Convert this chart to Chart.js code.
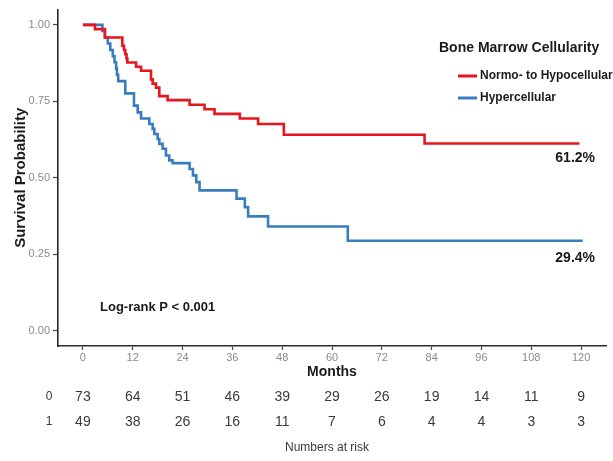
<!DOCTYPE html>
<html><head><meta charset="utf-8">
<script src="https://cdn.jsdelivr.net/npm/chart.js@4/dist/chart.umd.min.js"></script>
<style>html,body{margin:0;padding:0;background:#fff}canvas{display:block}</style>
</head><body>
<canvas id="c" width="613" height="461"></canvas>
<script>
// ---- data ----
const seriesNames = ['Normo- to Hypocellular', 'Hypercellular'];
const legendTitle = 'Bone Marrow Cellularity';
const normoTimes = [0, 2.9, 5.3, 9.5, 9.9, 10.2, 10.5, 10.7, 12.8, 14.0, 16.4, 16.8, 17.6, 18.4, 20.4, 25.7, 29.3, 31.7, 37.8, 42.2, 48.4, 82.3, 119.6];
const normoSurv  = [1.0, 0.986, 0.959, 0.932, 0.918, 0.904, 0.890, 0.877, 0.863, 0.850, 0.822, 0.808, 0.795, 0.767, 0.754, 0.739, 0.724, 0.709, 0.694, 0.676, 0.641, 0.612, 0.612];
const hyperTimes = [0, 4.7, 5.3, 6.0, 6.6, 7.2, 7.6, 8.0, 8.2, 8.5, 10.2, 12.3, 13.2, 14.0, 16.0, 16.8, 17.2, 18.0, 18.4, 19.2, 20.0, 20.8, 21.6, 25.7, 26.5, 27.3, 28.1, 37.0, 39.0, 39.8, 44.6, 63.8, 120.4];
const hyperSurv  = [1.0, 0.980, 0.959, 0.939, 0.918, 0.898, 0.878, 0.857, 0.837, 0.816, 0.776, 0.736, 0.714, 0.694, 0.676, 0.660, 0.643, 0.627, 0.611, 0.595, 0.573, 0.557, 0.548, 0.529, 0.508, 0.486, 0.459, 0.432, 0.404, 0.374, 0.341, 0.294, 0.294];
const endLabels = ['61.2%', '29.4%'];
const pValueText = 'Log-rank P < 0.001';
const xTickValues = [0, 12, 24, 36, 48, 60, 72, 84, 96, 108, 120];
const yTickValues = [0, 0.25, 0.5, 0.75, 1.0];
const riskGroups = ['0', '1'];
const riskNormo = [73, 64, 51, 46, 39, 29, 26, 19, 14, 11, 9];
const riskHyper = [49, 38, 26, 16, 11, 7, 6, 4, 4, 3, 3];
const riskTitle = 'Numbers at risk';

const RED = '#e5161d', BLUE = '#3a7dbf';
const FONT = '"Liberation Sans", Arial, sans-serif';
const toPts = (t, s) => t.map((x, i) => ({x: x, y: s[i]}));

const overlay = {
  id: 'overlay',
  afterDraw(chart) {
    const ctx = chart.ctx, xs = chart.scales.x;
    ctx.save();
    // end labels
    ctx.fillStyle = '#1a1a1a';
    ctx.font = 'bold 14px ' + FONT;
    ctx.textAlign = 'right'; ctx.textBaseline = 'middle';
    ctx.fillText(endLabels[0], 595, 158);
    ctx.fillText(endLabels[1], 595, 258);
    // p value
    ctx.font = 'bold 13px ' + FONT;
    ctx.textAlign = 'left';
    ctx.fillText(pValueText, 100, 307);
    // legend
    ctx.font = 'bold 14px ' + FONT;
    ctx.fillText(legendTitle, 439, 48);
    ctx.font = 'bold 12px ' + FONT;
    const ly = [76, 98];
    chart.data.datasets.forEach((d, i) => {
      ctx.strokeStyle = d.borderColor; ctx.lineWidth = 3;
      ctx.beginPath(); ctx.moveTo(458, ly[i]); ctx.lineTo(477, ly[i]); ctx.stroke();
      ctx.fillStyle = '#1a1a1a';
      ctx.fillText(d.label, 480, ly[i]);
    });
    // risk table
    ctx.fillStyle = '#3a3a3a';
    ctx.textAlign = 'center';
    ctx.font = '12px ' + FONT;
    ctx.fillText(riskGroups[0], 49, 397);
    ctx.fillText(riskGroups[1], 49, 422);
    ctx.font = '14px ' + FONT;
    xTickValues.forEach((t, i) => {
      const px = xs.getPixelForValue(t);
      ctx.fillText(String(riskNormo[i]), px, 397);
      ctx.fillText(String(riskHyper[i]), px, 422);
    });
    ctx.font = '12px ' + FONT;
    ctx.fillText(riskTitle, 327, 448);
    ctx.restore();
  }
};

new Chart(document.getElementById('c'), {
  type: 'line',
  data: {
    datasets: [
      {label: seriesNames[0], data: toPts(normoTimes, normoSurv), borderColor: RED, backgroundColor: RED, borderWidth: 2.6, stepped: true, pointRadius: 0, fill: false},
      {label: seriesNames[1], data: toPts(hyperTimes, hyperSurv), borderColor: BLUE, backgroundColor: BLUE, borderWidth: 2.6, stepped: true, pointRadius: 0, fill: false}
    ]
  },
  options: {
    responsive: false, animation: false,
    layout: {padding: {left: 12, top: 9, right: 7, bottom: 80}},
    plugins: {legend: {display: false}, tooltip: {enabled: false}},
    scales: {
      x: {
        type: 'linear', min: -6, max: 126,
        afterBuildTicks: s => { s.ticks = xTickValues.map(v => ({value: v})); },
        afterFit: s => { s.height = 35; },
        ticks: {color: '#8a8a8a', font: {size: 11, family: FONT}, padding: 1, maxRotation: 0, autoSkip: false},
        grid: {display: true, drawOnChartArea: false, drawTicks: true, tickLength: 4, color: '#444', tickWidth: 1.2},
        border: {display: true, color: '#2a2a2a', width: 1.6},
        title: {display: true, text: 'Months', color: '#1a1a1a', font: {size: 14, weight: 'bold', family: FONT}, padding: 0}
      },
      y: {
        type: 'linear', min: -0.05, max: 1.05,
        afterBuildTicks: s => { s.ticks = yTickValues.map(v => ({value: v})); },
        afterFit: s => { s.width = 46; },
        ticks: {color: '#8a8a8a', font: {size: 11, family: FONT}, padding: 3, callback: v => Number(v).toFixed(2)},
        grid: {display: true, drawOnChartArea: false, drawTicks: true, tickLength: 5, color: '#444', tickWidth: 1.2},
        border: {display: true, color: '#2a2a2a', width: 1.6},
        title: {display: true, text: 'Survival Probability', color: '#1a1a1a', font: {size: 15, weight: 'bold', family: FONT}, padding: 0}
      }
    }
  },
  plugins: [overlay]
});
</script>
</body></html>
